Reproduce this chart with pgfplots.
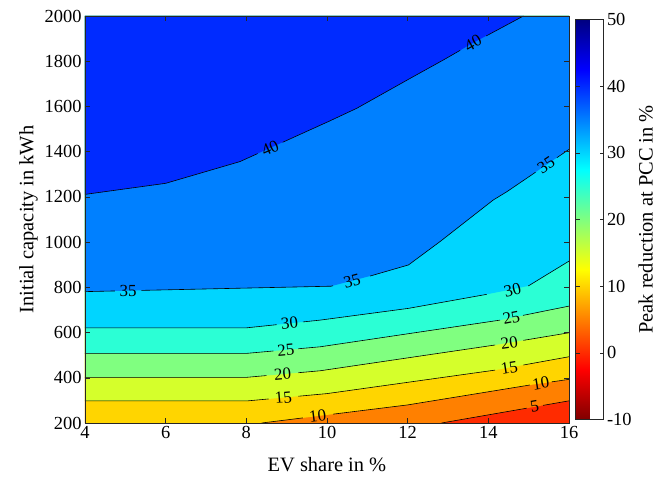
\documentclass[border=0pt]{standalone}
\usepackage{fontspec}
\setmainfont{Liberation Serif}
\usepackage{pgfplots}
\pgfplotsset{compat=1.18}

% fill colours of the contour bands (jet, reversed, -10..50)
\definecolor{c0}{RGB}{255,43,0}
\definecolor{c5}{RGB}{255,128,0}
\definecolor{c10}{RGB}{255,213,0}
\definecolor{c15}{RGB}{213,255,43}
\definecolor{c20}{RGB}{128,255,128}
\definecolor{c25}{RGB}{43,255,213}
\definecolor{c30}{RGB}{0,213,255}
\definecolor{c35}{RGB}{0,128,255}
\definecolor{c40}{RGB}{0,43,255}
\definecolor{axgray}{RGB}{38,38,38}

\pgfplotsset{
  band/.style={draw=none, fill=#1, forget plot},
  cline/.style={black, line width=0.6pt, unbounded coords=jump, forget plot},
  /pgf/number format/assume math mode=true,
  /pgf/number format/1000 sep={},
  tick label style={font=\rmfamily\fontsize{18.5}{20}\selectfont},
  label style={font=\rmfamily\fontsize{20.5}{22}\selectfont},
}
\tikzset{clab/.style={font=\rmfamily\fontsize{17}{17}\selectfont, inner sep=0pt}}

\begin{document}
\begin{tikzpicture}
\begin{axis}[
  name=main,
  scale only axis, width=484bp, height=407bp,
  xmin=4, xmax=16, ymin=200, ymax=2000,
  xtick={4,6,...,16}, ytick={200,400,...,2000},
  scaled ticks=false,
  axis on top,
  tick align=inside,
  major tick length=5bp,
  axis line style={axgray, line width=0.5pt},
  every tick/.style={axgray, line width=0.5pt},
  xlabel={EV share in \%},
  xlabel style={yshift=-12bp},
  ylabel={Initial capacity in kWh},
  colorbar,
  colormap={jetr}{rgb255(0cm)=(128,0,0) rgb255(1cm)=(255,0,0) rgb255(3cm)=(255,255,0) rgb255(5cm)=(0,255,255) rgb255(7cm)=(0,0,255) rgb255(8cm)=(0,0,128)},
  point meta min=-10, point meta max=50,
  colorbar style={
    at={(parent axis.east)}, anchor=west, xshift=-2bp,
    scale only axis, width=28bp, height=400bp,
    ytick={-10,0,...,50},
    major tick length=4bp,
    axis line style={axgray, line width=0.5pt},
    every tick/.style={axgray, line width=0.5pt},
    ylabel={Peak reduction at PCC in \%},
  },
]
% bands: each fill covers the region above one contour
\addplot[band=c0] coordinates {(4,200) (16,200) (16,2000) (4,2000)} -- cycle;
\addplot[band=c5] coordinates {(4,200) (12.84,200) (16,298) (16,2000) (4,2000)} -- cycle;
\addplot[band=c10] coordinates {(4,200) (8.38,200) (12,280) (15.03,368) (16,393) (16,2000) (4,2000)} -- cycle;
\addplot[band=c15] coordinates {(4,298) (8.04,298) (10,330) (14.17,434) (16,493) (16,2000) (4,2000)} -- cycle;
\addplot[band=c20] coordinates {(4,402) (8.01,402) (9.83,431) (14.17,545) (16,599) (16,2000) (4,2000)} -- cycle;
\addplot[band=c25] coordinates {(4,508) (8.01,508) (9.83,537) (12.02,595) (14.29,655) (16,717) (16,2000) (4,2000)} -- cycle;
\addplot[band=c30] coordinates {(4,621) (8.01,621) (9.83,655) (12.02,707) (13.96,769) (14.99,806) (16,916) (16,2000) (4,2000)} -- cycle;
\addplot[band=c35] coordinates {(4,781) (10.1,805) (11.07,850) (12.02,899) (12.8,1002) (14.12,1186) (14.46,1223) (16,1410) (16,2000) (4,2000)} -- cycle;
\addplot[band=c40] coordinates {(4,1211) (6,1260) (7.84,1356) (10.07,1536) (10.74,1592) (12.06,1724) (12.88,1805) (13.62,1881) (14.87,2000) (4,2000)} -- cycle;

% contour lines, broken where the labels sit
\addplot[cline] coordinates {(12.84,200) (14.95,265.4) (nan,nan) (15.36,278.1) (16,298)};
\addplot[cline] coordinates {(8.38,200) (9.4,222.5) (nan,nan) (10.15,239.1) (12,280) (15.03,368) (nan,nan) (15.57,381.9) (16,393)};
\addplot[cline] coordinates {(4,298) (8.04,298) (8.55,306.3) (nan,nan) (9.29,318.4) (10,330) (14.17,434) (nan,nan) (14.87,456.5) (16,493)};
\addplot[cline] coordinates {(4,402) (8.01,402) (8.5,409.8) (nan,nan) (9.29,422.4) (9.83,431) (14.17,545) (nan,nan) (14.87,565.6) (16,599)};
\addplot[cline] coordinates {(4,508) (8.01,508) (8.67,518.5) (nan,nan) (9.29,528.4) (9.83,537) (12.02,595) (14.29,655) (nan,nan) (14.86,676) (16,717)};
\addplot[cline] coordinates {(4,621) (8.01,621) (8.75,634.8) (nan,nan) (9.4,647) (9.83,655) (12.02,707) (13.96,769) (nan,nan) (14.99,806) (16,916)};
\addplot[cline] coordinates {(4,781) (4.74,784) (nan,nan) (5.4,786.5) (10.1,805) (10.15,807) (nan,nan) (11.07,850) (12.02,899) (12.8,1002) (14.12,1186) (14.46,1223) (15.17,1309) (nan,nan) (15.7,1373.5) (16,1410)};
\addplot[cline] coordinates {(4,1211) (6,1260) (7.84,1356) (8.28,1391.5) (nan,nan) (8.9,1441.5) (10.07,1536) (10.74,1592) (12.06,1724) (12.88,1805) (13.3,1848) (nan,nan) (13.95,1912) (14.87,2000)};

% contour labels
\node[clab, rotate=10] at (axis cs:15.15,272) {5};
\node[clab, rotate=7] at (axis cs:9.77,231) {10};
\node[clab, rotate=9] at (axis cs:15.3,375) {10};
\node[clab, rotate=5] at (axis cs:8.92,312) {15};
\node[clab, rotate=9] at (axis cs:14.52,445) {15};
\node[clab, rotate=5] at (axis cs:8.9,416) {20};
\node[clab, rotate=8] at (axis cs:14.52,555) {20};
\node[clab, rotate=5] at (axis cs:8.98,523) {25};
\node[clab, rotate=11] at (axis cs:14.57,665) {25};
\node[clab, rotate=6] at (axis cs:9.07,641) {30};
\node[clab, rotate=14] at (axis cs:14.6,789) {30};
\node[clab] at (axis cs:5.07,785) {35};
\node[clab, rotate=15] at (axis cs:10.62,829) {35};
\node[clab, rotate=34] at (axis cs:15.43,1341) {35};
\node[clab, rotate=24] at (axis cs:8.59,1416) {40};
\node[clab, rotate=29] at (axis cs:13.62,1880) {40};
\end{axis}
\path ([xshift=-85bp,yshift=-55bp]main.south west) rectangle ([xshift=103bp,yshift=16bp]main.north east);
\end{tikzpicture}
\end{document}
